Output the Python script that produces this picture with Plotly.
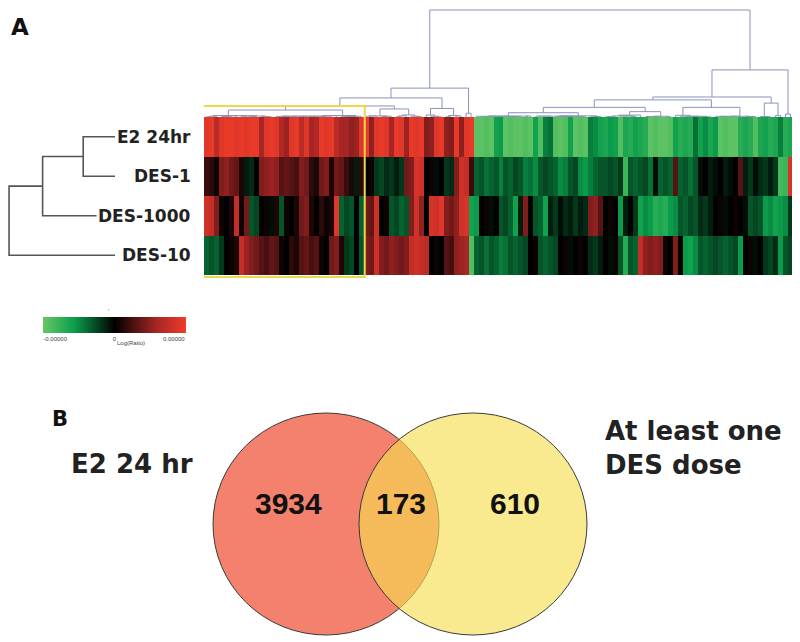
import numpy as np
import plotly.graph_objects as go

# the page puts the figure 8 px from the top left corner
OFF = 8
W, H = 800 - OFF, 642 - OFF

# samples (rows of the heat map, top to bottom)
row_labels = ["E2 24hr", "DES-1", "DES-1000", "DES-10"]

# log ratio per gene column, read left to right (-1 = green, +1 = red)
e2_24hr = [0.9, 0.95, 0.7, 0.9, 0.95, 0.95, 0.9, 0.95, 0.9, 0.95,
           0.95, 0.6, 0.9, 0.95, 0.9, 0.65, 0.55, 0.9, 0.95, 0.7,
           0.9, 0.6, 0.65, 0.95, 0.9, 0.95, 0.7, 0.6, 0.6, 0.5,
           0.55, 0.9, 0.95, 0.5, 0.9, 0.95, 0.9, 0.6, 0.95, 0.9,
           0.55, 0.95, 0.9, 0.95, 0.45, 0.5, 0.9, 0.95, 0.5, 0.45,
           0.95, 0.5, 0.9, 0.95,
           -0.95, -0.95, -0.9, -0.95, -0.6, -0.55, -0.95, -0.9, -0.95, -0.95,
           -0.9, -0.95, -0.6, -0.9, -0.45, -0.4, -0.9, -0.95, -0.9, -0.6,
           -0.95, -0.9, -0.95, -0.45, -0.5, -0.6, -0.65, -0.55, -0.6, -0.9,
           -0.65, -0.7, -0.6, -0.65, -0.7, -0.95, -0.9, -0.95, -0.95, -0.9,
           -0.6, -0.7, -0.65, -0.7, -0.4, -0.6, -0.5, -0.65, -0.55, -0.95,
           -0.9, -0.95, -0.95, -0.7, -0.65, -0.7, -0.9, -0.65, -0.6, -0.7,
           -0.65, -0.45, -0.7, -0.65]
des_1 = [0.2, 0.15, 0.05, 0.45, 0.5, 0.4, 0.35, 0.1, -0.1, -0.15,
         0.0, 0.45, 0.5, 0.55, 0.5, 0.3, 0.35, 0.3, 0.25, 0.45,
         0.4, 0.15, 0.1, 0.4, 0.45, 0.1, 0.4, 0.35, 0.2, 0.1,
         -0.1, 0.15, 0.0, 0.05, -0.2, -0.25, -0.15, -0.2, -0.1, -0.2,
         0.4, 0.45, 0.85, 0.8, 0.0, 0.05, -0.05, 0.0, -0.2, -0.15,
         0.45, 0.8, 0.75, 0.2,
         -0.35, -0.3, -0.4, -0.35, -0.3, -0.45, -0.3, -0.35, -0.25, -0.3,
         -0.45, -0.4, -0.5, -0.3, -0.25, -0.3, -0.35, -0.5, -0.45, -0.3,
         -0.25, -0.5, -0.55, -0.45, -0.35, -0.3, -0.3, -0.25, -0.3, -0.2,
         -0.8, -0.3, -0.35, -0.3, -0.25, -0.4, -0.05, -0.35, -0.3, -0.35,
         0.3, -0.35, -0.3, -0.4, -0.3, -0.05, 0.0, -0.1, -0.05, 0.0,
         -0.1, -0.05, 0.0, 0.3, -0.1, -0.2, -0.05, -0.15, -0.2, -0.1,
         -0.2, -0.85, -0.8, 0.85]
des_1000 = [0.8, 0.75, 0.45, 0.05, 0.0, 0.1, 0.75, 0.05, 0.4, -0.3,
            -0.25, 0.0, 0.05, -0.05, 0.1, -0.3, 0.05, 0.0, 0.1, 0.4,
            0.45, 0.1, 0.0, 0.15, 0.05, 0.1, 0.9, -0.35, -0.25, -0.3,
            0.0, -0.35, 0.4, 0.35, 0.8, 0.0, 0.05, -0.3, -0.25, -0.35,
            -0.3, 0.45, 0.8, 0.5, 0.0, 0.85, 0.8, 0.9, 0.45, 0.4,
            0.5, 0.8, 0.85, -0.6,
            -0.55, 0.0, 0.05, -0.05, 0.0, -0.3, -0.25, -0.35, -0.6, -0.1,
            0.45, 0.0, -0.3, -0.35, -0.6, -0.1, -0.2, -0.05, -0.15, -0.1,
            -0.2, -0.1, -0.15, 0.45, 0.5, 0.3, 0.0, 0.05, 0.0, -0.55,
            -0.1, 0.0, -0.2, -0.6, -0.5, -0.55, -0.7, -0.65, -0.7, -0.55,
            -0.5, -0.3, -0.35, -0.25, -0.3, -0.15, -0.2, -0.1, 0.0, 0.05,
            -0.05, 0.0, 0.05, 0.0, -0.05, -0.3, -0.25, -0.3, -0.55, -0.5,
            -0.6, -0.55, -0.5, -0.2]
des_10 = [-0.35, -0.3, -0.35, -0.2, 0.0, 0.05, 0.1, 0.75, 0.55, 0.45,
          0.4, 0.3, 0.25, 0.35, 0.3, 0.05, 0.0, 0.15, 0.1, 0.3,
          0.35, 0.25, 0.3, 0.05, 0.0, 0.4, 0.45, 0.1, -0.2, -0.25,
          0.0, -0.3, 0.45, 0.4, 0.8, 0.45, 0.4, 0.5, 0.45, 0.4,
          0.45, 0.75, 0.8, 0.75, 0.7, 0.0, 0.05, 0.0, 0.3, 0.25,
          0.5, 0.55, 0.6, -0.9,
          -0.35, -0.3, -0.4, -0.3, -0.35, -0.45, -0.4, -0.3, -0.35, -0.3,
          -0.25, 0.0, 0.05, -0.3, -0.35, -0.3, -0.25, 0.0, 0.05, -0.05,
          0.0, 0.05, 0.0, -0.15, -0.2, -0.1, 0.0, -0.05, 0.05, -0.3,
          -0.7, -0.3, -0.35, 0.75, 0.5, 0.45, 0.5, 0.45, 0.05, 0.0,
          0.45, 0.0, -0.55, -0.6, -0.5, -0.3, -0.35, -0.3, -0.25, -0.3,
          -0.35, -0.3, -0.25, -0.55, 0.0, 0.05, -0.05, 0.0, -0.2, -0.25,
          -0.15, -0.55, -0.3, -0.25]

# sample tree: [left, right, height], new nodes numbered from 4 (scipy style)
row_links = [[0, 1, 0.9], [4, 2, 2.05], [5, 3, 3.0]]

# upper part of the gene tree: [height, left, right]; (start, stop) = block of columns
col_tree = [100,
            [27,
             [17.8,
              [10.3, [6.5, (0, 14), (14, 32)], [7.5, (32, 38), (38, 44)]],
              [8, (44, 48), (48, 52)]],
             (52, 54)],
            [44,
             [18.7,
              [16,
               [9, [4, (54, 66), (66, 80)], [5, (80, 88), (88, 94)]],
               [9, (94, 102), (102, 111)]],
              [13, (111, 114), (114, 116)]],
             (116, 118)]]

cbar_ticks = ["-0.00000", "0", "0.00000"]

venn_sets = ["E2 24 hr", "At least one<br>DES dose"]
venn_counts = [3934, 173, 610]  # E2 only, both, DES only

z = np.array([e2_24hr, des_1, des_1000, des_10])
ncol = z.shape[1]


# positions below are given in page pixels
def px_x(p):
    return (p - OFF) / W


def px_y(p):
    return 1 - (p - OFF) / H


# fine structure inside each block: adjacent-only clustering of the columns
def block_merges(start, stop):
    nodes = [[c, 0.0, [c]] for c in range(start, stop)]
    out = []
    while len(nodes) > 1:
        dist = [np.linalg.norm(z[:, nodes[k][2]].mean(1) - z[:, nodes[k + 1][2]].mean(1))
                for k in range(len(nodes) - 1)]
        k = int(np.argmin(dist))
        a, b = nodes[k], nodes[k + 1]
        h = max(dist[k], a[1], b[1])
        out.append((a[0], a[1], b[0], b[1], h))
        nodes[k:k + 2] = [[(a[0] + b[0]) / 2, h, a[2] + b[2]]]
    return nodes[0][0], nodes[0][1], out


blocks = {}


def find_blocks(node):
    if isinstance(node, tuple):
        blocks[node] = block_merges(*node)
    else:
        find_blocks(node[1])
        find_blocks(node[2])


find_blocks(col_tree)
scale = 3.5 / max(b[1] for b in blocks.values())

cx, cy = [], []


def link(x1, h1, x2, h2, h):
    cx.extend([x1, x1, x2, x2, None])
    cy.extend([h1, h, h, h2, None])


def walk(node):
    if isinstance(node, tuple):
        x, h, merges = blocks[node]
        for a, ha, b, hb, hm in merges:
            link(a, ha * scale, b, hb * scale, hm * scale)
        return x, h * scale
    xl, hl = walk(node[1])
    xr, hr = walk(node[2])
    link(xl, hl, xr, hr, node[0])
    return (xl + xr) / 2, node[0]


walk(col_tree)

# sample dendrogram lines
pos = {i: (i, 0.0) for i in range(len(row_labels))}
rx, ry = [], []
for n, (a, b, h) in enumerate(row_links, start=len(row_labels)):
    (ya, ha), (yb, hb) = pos[a], pos[b]
    rx.extend([ha, h, h, hb, None])
    ry.extend([ya, ya, yb, yb, None])
    pos[n] = ((ya + yb) / 2, h)

colorscale = [[0.0, "#66c766"], [0.22, "#0a9e4c"], [0.5, "#000000"],
              [0.78, "#a02424"], [1.0, "#f23c2a"]]

fig = go.Figure()
fig.add_trace(go.Heatmap(
    z=z, x=list(range(ncol)), y=list(range(len(row_labels))),
    colorscale=colorscale, zmin=-1, zmax=1, hoverinfo="skip",
    colorbar=dict(orientation="h", x=px_x(43), xanchor="left",
                  y=px_y(317), yanchor="top", len=(186 - 43) / W,
                  lenmode="fraction", thickness=16, xpad=0, ypad=0,
                  outlinewidth=0, tickvals=[-0.83, 0, 0.83],
                  ticktext=cbar_ticks, ticks="",
                  tickfont=dict(size=6, color="#444", family="Liberation Sans")),
))
fig.add_trace(go.Scatter(x=cx, y=cy, mode="lines", xaxis="x2", yaxis="y2",
                         line=dict(color="#8a92ba", width=1), hoverinfo="skip"))
fig.add_trace(go.Scatter(x=rx, y=ry, mode="lines", xaxis="x3", yaxis="y3",
                         line=dict(color="#555555", width=1.6), hoverinfo="skip"))

hm_x = [px_x(204), px_x(793)]
hm_y = [px_y(275), px_y(117)]
fig.update_layout(
    width=W, height=H, margin=dict(l=0, r=0, t=0, b=0),
    paper_bgcolor="white", plot_bgcolor="rgba(0,0,0,0)", showlegend=False,
    xaxis=dict(domain=hm_x, range=[-0.5, ncol - 0.5], visible=False),
    yaxis=dict(domain=hm_y, range=[3.5, -0.5], visible=False),
    xaxis2=dict(domain=hm_x, range=[-0.5, ncol - 0.5], visible=False, anchor="y2"),
    yaxis2=dict(domain=[px_y(117), px_y(8)], range=[0, 109 / 1.07], visible=False, anchor="x2"),
    xaxis3=dict(domain=[px_x(8), px_x(115)], range=[3.03, 0], visible=False, anchor="y3"),
    yaxis3=dict(domain=hm_y, range=[3.5, -0.5], visible=False, anchor="x3"),
)

ann = []
for i, lab in enumerate(row_labels):
    ann.append(dict(x=px_x(193), xref="paper", xanchor="right", y=i, yref="y",
                    text=f"<b>{lab}</b>", showarrow=False, bgcolor="white", borderpad=1,
                    font=dict(family="DejaVu Sans", size=17, color="#222")))

ann.append(dict(x=px_x(9), y=px_y(12), xref="paper", yref="paper", xanchor="left",
                yanchor="top", text="<b>A</b>", showarrow=False,
                font=dict(family="DejaVu Sans", size=23, color="#111")))
ann.append(dict(x=px_x(50), y=px_y(405), xref="paper", yref="paper", xanchor="left",
                yanchor="top", text="<b>B</b>", showarrow=False,
                font=dict(family="DejaVu Sans", size=21, color="#111")))
ann.append(dict(x=px_x(115), y=px_y(343), xref="paper", yref="paper", text="Log(Ratio)",
                showarrow=False, font=dict(size=6, color="#444", family="Liberation Sans")))
ann.append(dict(x=px_x(106), y=px_y(311), xref="paper", yref="paper", text="'",
                showarrow=False, font=dict(size=6, color="#444")))

# yellow box round the first gene cluster
shapes = [dict(type="rect", xref="x", yref="paper", x0=-0.7, x1=31.7,
               y0=px_y(277), y1=px_y(106), line=dict(color="#ecd94a", width=2))]

# Venn diagram
left_c, right_c, top_c, bot_c = (213, 439), (359, 587), 413, 635
shapes.append(dict(type="circle", xref="paper", yref="paper",
                   x0=px_x(left_c[0]), x1=px_x(left_c[1]), y0=px_y(bot_c), y1=px_y(top_c),
                   fillcolor="#f4806e", line=dict(color="#3a3a3a", width=1)))
shapes.append(dict(type="circle", xref="paper", yref="paper",
                   x0=px_x(right_c[0]), x1=px_x(right_c[1]), y0=px_y(bot_c), y1=px_y(top_c),
                   fillcolor="rgba(245,220,80,0.64)", line=dict(color="#3a3a3a", width=1)))

mid_y = px_y((top_c + bot_c) / 2 - 2)
region_x = [(left_c[0] + right_c[0]) / 2, (right_c[0] + left_c[1]) / 2,
            (left_c[1] + right_c[1]) / 2]
for rxp, cnt in zip(region_x, venn_counts):
    ann.append(dict(x=px_x(rxp + 2), y=mid_y, xref="paper", yref="paper",
                    text=f"<b>{cnt}</b>", showarrow=False,
                    font=dict(family="Liberation Sans", size=30, color="#111")))

ann.append(dict(x=px_x(195), y=px_y(481), xref="paper", yref="paper", xanchor="right",
                text=f"<b>{venn_sets[0]}</b>", showarrow=False,
                font=dict(family="DejaVu Sans", size=26, color="#222")))
ann.append(dict(x=px_x(603), y=px_y(482), xref="paper", yref="paper", xanchor="left",
                align="left", text=f"<b>{venn_sets[1]}</b>", showarrow=False,
                font=dict(family="DejaVu Sans", size=26, color="#222")))

fig.update_layout(annotations=ann, shapes=shapes)
fig.write_html("out.html")
